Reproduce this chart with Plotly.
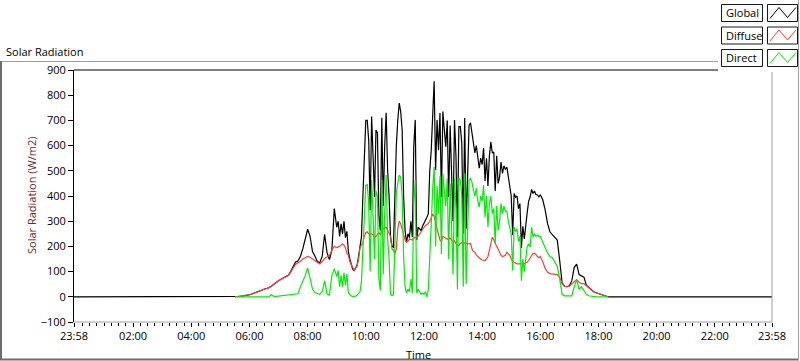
import plotly.graph_objects as go

# ---------------- DATA ----------------
# time axis in minutes after midnight (-2 = 23:58 of previous day, 1438 = 23:58)
seg_a = list(range(330, 540, 5))    # 05:30 - 08:55
seg_b = list(range(540, 960, 3))    # 09:00 - 15:57
seg_c = list(range(960, 1111, 5))   # 16:00 - 18:30
time_min = [-2] + seg_a + seg_b + seg_c + [1438]

tick_minutes = [-2, 120, 240, 360, 480, 600, 720, 840, 960, 1080, 1200, 1320, 1438]
tick_labels = ["23:58", "02:00", "04:00", "06:00", "08:00", "10:00", "12:00",
               "14:00", "16:00", "18:00", "20:00", "22:00", "23:58"]

global_a = [0, 1, 2, 3, 4, 6, 8, 11, 14, 18,
            22, 26, 30, 32, 36, 42, 50, 58, 64, 70,
            74, 78, 85, 100, 122, 138, 142, 160, 190, 230,
            268, 240, 180, 162, 140, 135, 160, 248, 175, 148,
            185, 350]
global_b = [276, 300, 240, 290, 250, 300, 235, 260, 180, 150,
            125, 110, 104, 115, 125, 160, 197, 237, 400, 560,
            700, 700, 620, 343, 715, 560, 396, 662, 650, 320,
            263, 710, 360, 600, 730, 502, 400, 237, 200, 197,
            430, 600, 702, 769, 735, 662, 400, 263, 215, 250,
            235, 300, 237, 600, 702, 225, 276, 270, 263, 280,
            291, 300, 316, 330, 502, 582, 760, 855, 502, 702,
            582, 729, 396, 735, 662, 596, 700, 396, 680, 502,
            300, 702, 560, 237, 675, 676, 610, 250, 709, 270,
            450, 680, 690, 650, 600, 571, 600, 540, 510, 550,
            525, 590, 460, 550, 440, 560, 615, 570, 575, 420,
            560, 450, 475, 535, 490, 520, 505, 515, 470, 440,
            400, 245, 410, 395, 400, 350, 370, 194, 280, 230,
            295, 335, 380, 396, 426, 410, 420, 405, 405, 396]
global_c = [405, 385, 345, 290, 257, 245, 235, 225, 144, 55,
            42, 40, 44, 64, 117, 130, 88, 84, 78, 46,
            36, 28, 20, 16, 12, 8, 5, 3, 0, 0,
            0]

diffuse_a = [0, 1, 2, 3, 4, 6, 8, 11, 14, 18,
             22, 26, 30, 32, 36, 42, 50, 58, 64, 70,
             74, 78, 84, 98, 115, 128, 135, 140, 150, 155,
             160, 157, 150, 145, 135, 130, 140, 152, 158, 164,
             185, 200]
diffuse_b = [195, 196, 200, 205, 210, 205, 195, 172, 165, 140,
             128, 110, 104, 115, 122, 150, 195, 205, 215, 240,
             255, 258, 250, 250, 250, 245, 235, 240, 250, 255,
             245, 265, 270, 275, 276, 265, 255, 240, 190, 185,
             171, 190, 270, 300, 290, 265, 245, 225, 217, 220,
             230, 228, 225, 232, 236, 238, 240, 250, 260, 265,
             275, 283, 288, 291, 300, 320, 330, 318, 300, 270,
             250, 225, 220, 240, 236, 232, 228, 231, 233, 225,
             220, 222, 210, 205, 203, 212, 215, 215, 213, 212,
             212, 210, 212, 190, 180, 177, 165, 160, 152, 150,
             146, 144, 144, 150, 160, 185, 220, 237, 225, 210,
             200, 190, 175, 164, 160, 162, 165, 177, 172, 165,
             150, 140, 137, 133, 131, 131, 131, 130, 128, 131,
             135, 137, 145, 155, 165, 172, 172, 168, 160, 155]
diffuse_c = [160, 140, 112, 97, 92, 91, 90, 88, 77, 52,
             42, 40, 42, 50, 60, 68, 58, 52, 52, 44,
             36, 28, 20, 16, 12, 8, 5, 3, 0, None,
             None]

direct_a = [0, 0, 0, 0, 0, 0, 0, 0, 0, 0,
            0, 0, 0, 0, 0, 8, 2, 2, 3, 3,
            4, 5, 5, 6, 8, 10, 12, 40, 60, 84,
            115, 77, 31, 17, 13, 10, 20, 64, 12, 7,
            84, 112]
direct_b = [80, 104, 40, 85, 40, 95, 45, 90, 15, 8,
            3, 2, 2, 3, 6, 12, 20, 60, 200, 316,
            443, 445, 370, 100, 463, 320, 150, 420, 400, 70,
            25, 463, 90, 330, 483, 230, 150, 10, 5, 8,
            263, 410, 450, 483, 475, 400, 160, 40, 15, 30,
            20, 70, 15, 370, 463, 15, 30, 20, 10, 15,
            10, 20, 0, 30, 200, 290, 430, 516, 200, 440,
            330, 480, 170, 490, 420, 360, 470, 150, 450, 280,
            90, 470, 350, 30, 471, 463, 400, 40, 490, 51,
            240, 463, 470, 455, 423, 400, 430, 380, 356, 400,
            380, 443, 316, 400, 277, 370, 400, 330, 350, 211,
            360, 263, 300, 370, 330, 360, 340, 340, 300, 277,
            250, 104, 277, 260, 270, 220, 240, 64, 150, 100,
            160, 200, 210, 197, 277, 237, 250, 240, 245, 240]
direct_c = [240, 215, 195, 175, 160, 155, 140, 120, 70, 10,
            4, 4, 4, 4, 40, 68, 30, 40, 25, 10,
            4, 2, 1, 0, 0, 0, 0, 0, 0, None,
            None]

global_rad = [0] + global_a + global_b + global_c + [0]
diffuse_rad = [None] + diffuse_a + diffuse_b + diffuse_c + [None]
direct_rad = [None] + direct_a + direct_b + direct_c + [None]

series_names = ["Global", "Diffuse", "Direct"]
series_colors = ["#000000", "#ff3c3c", "#00ee00"]

# ---------------- LAYOUT HELPERS ----------------
W, H = 800, 361
ML, MR, MT, MB = 74, 28, 70, 39
PW, PH = W - ML - MR, H - MT - MB
FONT = "Open Sans"


def px(x):
    return (x - ML) / PW


def py(y):
    return (H - MB - y) / PH


fig = go.Figure()
for name, color, vals in zip(series_names, series_colors,
                             [global_rad, diffuse_rad, direct_rad]):
    fig.add_trace(go.Scatter(x=time_min, y=vals, mode="lines", name=name,
                             line=dict(color=color, width=1.2),
                             connectgaps=False, showlegend=False))

shapes = []
# outer frame
shapes.append(dict(type="line", xref="paper", yref="paper", x0=px(0), x1=px(799),
                   y0=py(61.5), y1=py(61.5), line=dict(color="#a0a0a0", width=1)))
shapes.append(dict(type="line", xref="paper", yref="paper", x0=px(1), x1=px(1),
                   y0=py(61), y1=py(360), line=dict(color="#6e6e6e", width=2)))
shapes.append(dict(type="line", xref="paper", yref="paper", x0=px(0), x1=px(799),
                   y0=py(359.5), y1=py(359.5), line=dict(color="#6e6e6e", width=2)))
shapes.append(dict(type="line", xref="paper", yref="paper", x0=px(798.5), x1=px(798.5),
                   y0=py(0), y1=py(360), line=dict(color="#a0a0a0", width=1)))
# plot area frame
shapes.append(dict(type="line", xref="paper", yref="paper", x0=0, x1=1,
                   y0=1, y1=1, line=dict(color="#000000", width=1.2)))
shapes.append(dict(type="line", xref="paper", yref="paper", x0=1, x1=1,
                   y0=0, y1=1, line=dict(color="#a0a0a0", width=1)))
shapes.append(dict(type="line", xref="paper", yref="paper", x0=0, x1=1,
                   y0=0, y1=0, line=dict(color="#a0a0a0", width=1)))
# legend panel
shapes.append(dict(type="rect", xref="paper", yref="paper", x0=px(718), x1=px(798),
                   y0=py(72), y1=py(0), fillcolor="#ffffff", line=dict(width=0)))
shapes.append(dict(type="line", xref="paper", yref="paper", x0=px(798.5), x1=px(798.5),
                   y0=py(72), y1=py(0), line=dict(color="#a0a0a0", width=1)))

annotations = []
for i, (name, color) in enumerate(zip(series_names, series_colors)):
    yt = 4.5 + i * 22.5
    shapes.append(dict(type="rect", xref="paper", yref="paper", x0=px(721.5), x1=px(762.5),
                       y0=py(yt + 17), y1=py(yt), fillcolor="#ffffff",
                       line=dict(color="#1a1a1a", width=1)))
    shapes.append(dict(type="rect", xref="paper", yref="paper", x0=px(767.5), x1=px(797.5),
                       y0=py(yt + 17), y1=py(yt), fillcolor="#ffffff",
                       line=dict(color="#1a1a1a", width=1)))
    pts = [(770, yt + 14), (779, yt + 3), (787.5, yt + 13), (796, yt + 3)]
    path = "M " + " L ".join(f"{px(a):.5f},{py(b):.5f}" for a, b in pts)
    shapes.append(dict(type="path", xref="paper", yref="paper", path=path,
                       line=dict(color=color, width=1)))
    annotations.append(dict(text=name, xref="paper", yref="paper", x=px(723.5),
                            y=py(yt + 8.5), xanchor="left", yanchor="middle",
                            showarrow=False, font=dict(family=FONT, size=11, color="#000")))

annotations.append(dict(text="Solar Radiation", xref="paper", yref="paper", x=px(4),
                        y=py(51), xanchor="left", yanchor="middle", showarrow=False,
                        font=dict(family=FONT, size=11, color="#000")))
annotations.append(dict(text="Solar Radiation (W/m2)", xref="paper", yref="paper",
                        x=px(31), y=py(196), xanchor="center", yanchor="middle",
                        textangle=-90, showarrow=False,
                        font=dict(family=FONT, size=11, color="#6b2a2a")))
annotations.append(dict(text="Time", xref="paper", yref="paper", x=px(418),
                        y=py(354), xanchor="center", yanchor="middle", showarrow=False,
                        font=dict(family=FONT, size=11, color="#000")))

fig.update_layout(
    width=W, height=H,
    margin=dict(l=ML, r=MR, t=MT, b=MB, pad=0),
    paper_bgcolor="#ffffff", plot_bgcolor="#ffffff",
    font=dict(family=FONT, size=11, color="#000"),
    shapes=shapes, annotations=annotations,
    xaxis=dict(range=[-2, 1438], tickmode="array", tickvals=tick_minutes,
               ticktext=tick_labels, ticks="outside", ticklen=4, tickcolor="#000",
               showgrid=False, zeroline=False, showline=False,
               tickfont=dict(family=FONT, size=11, color="#000"),
               minor=dict(tickmode="linear", tick0=0, dtick=15, ticks="outside",
                          ticklen=3, tickcolor="#000", showgrid=False)),
    yaxis=dict(range=[-100, 900], dtick=100, ticks="outside", ticklen=5,
               tickcolor="#000", showgrid=False, zeroline=False, showline=True,
               linecolor="#000", linewidth=1,
               tickfont=dict(family=FONT, size=11, color="#000")),
    hovermode=False,
)

fig.write_html("out.html",
               config={"displayModeBar": False, "staticPlot": True},
               post_script="document.body.style.margin='0';document.body.style.padding='0';")
